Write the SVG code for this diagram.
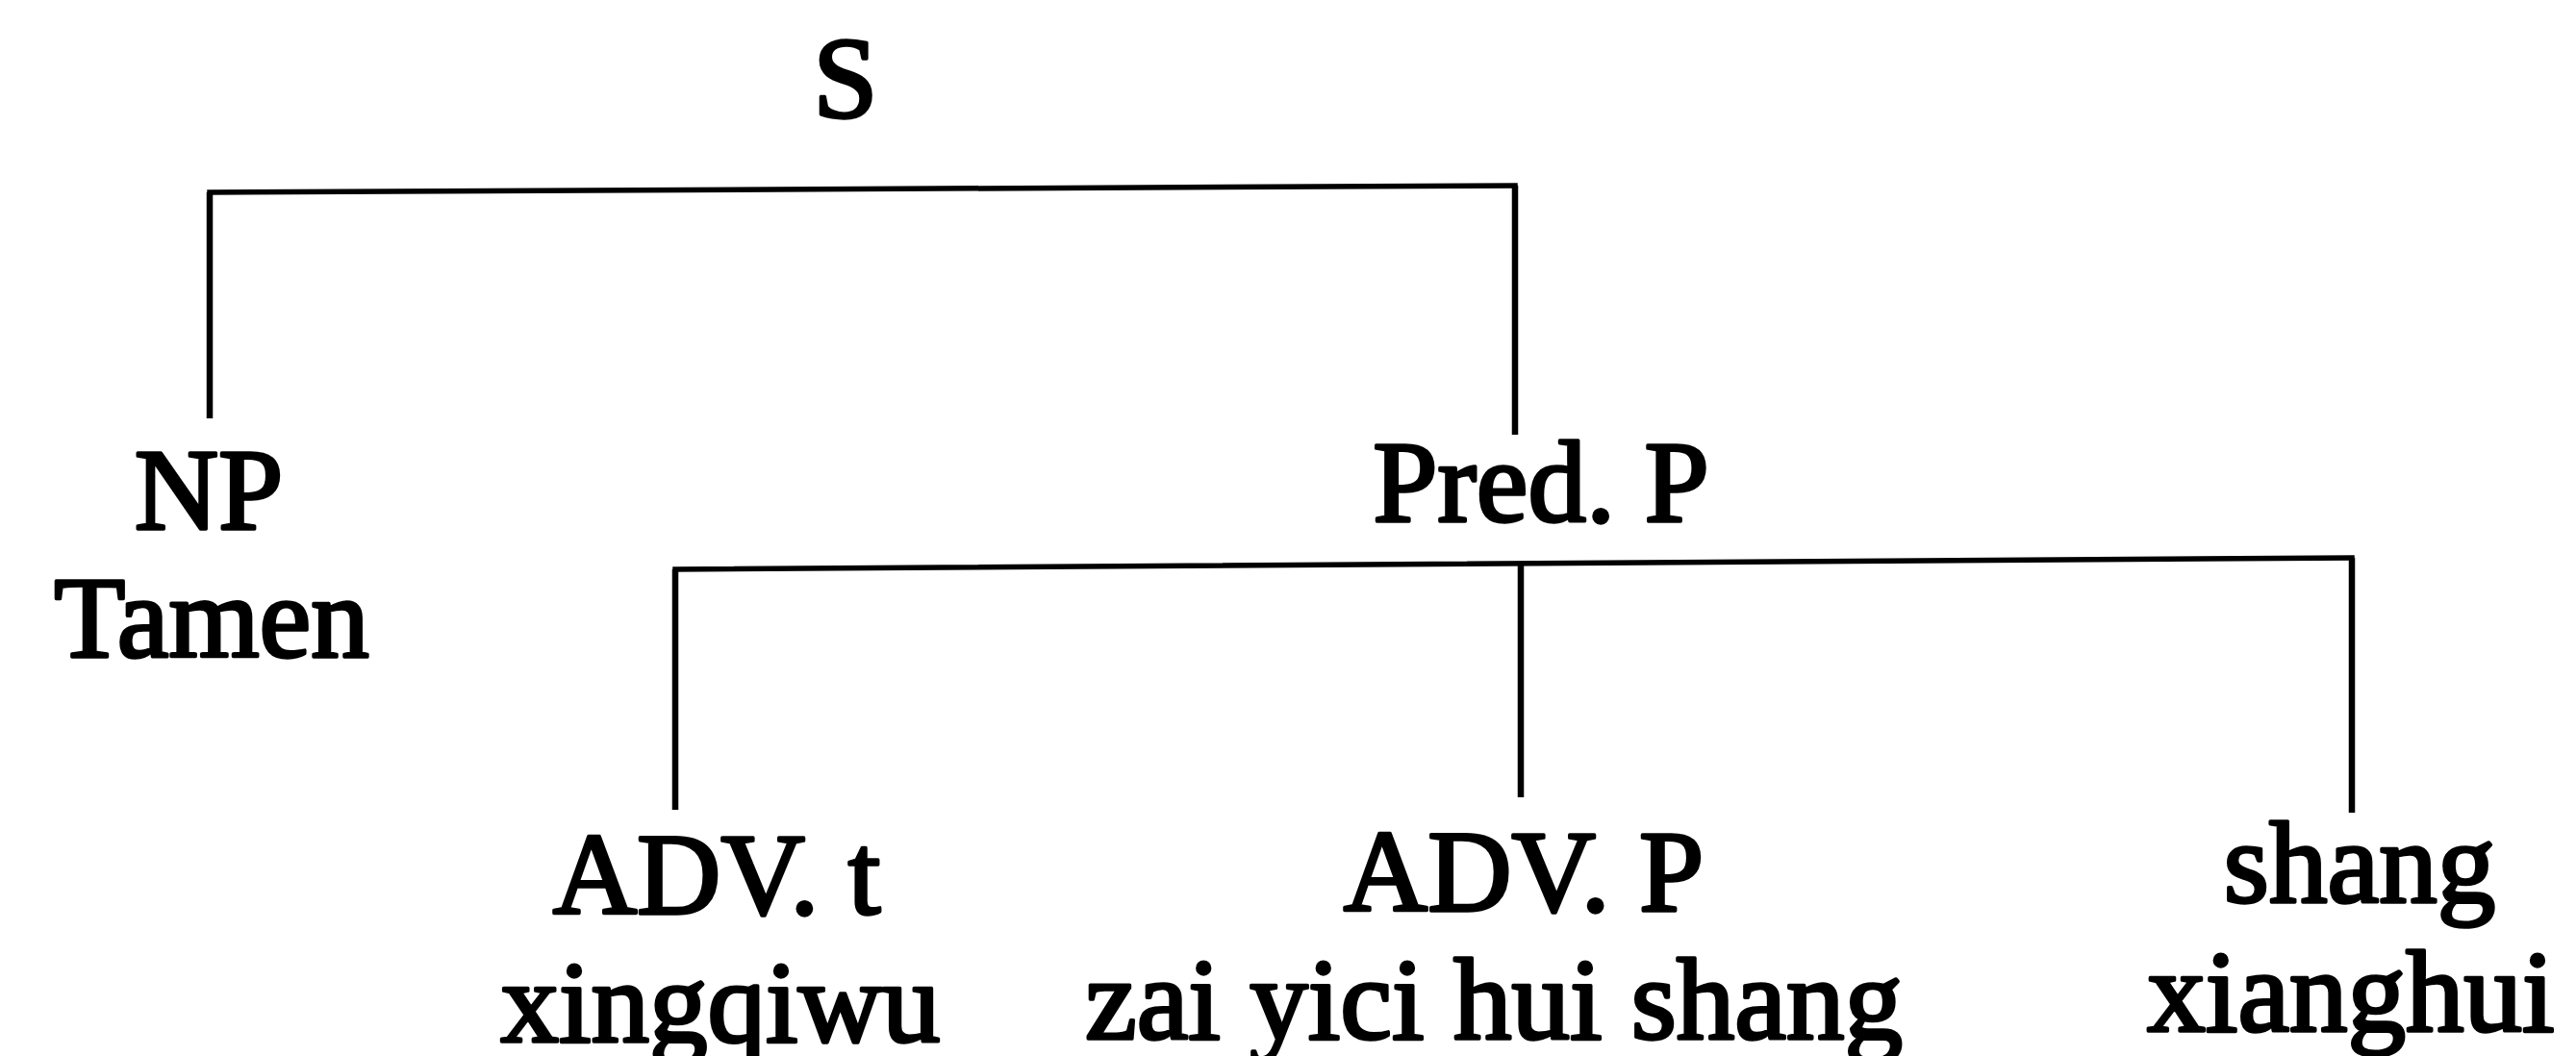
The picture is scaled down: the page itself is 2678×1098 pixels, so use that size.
<svg xmlns="http://www.w3.org/2000/svg" width="2678" height="1098" viewBox="0 0 2678 1098">
  <style>
    .lbl { font-family: "Liberation Serif", "Times New Roman", serif; font-size: 121px; fill: #000; stroke: #000; stroke-width: 3.5px; stroke-linejoin: round; }
    .bar { stroke: #000; stroke-width: 5.5; fill: none; stroke-linecap: square; }
    .stem { stroke: #000; stroke-width: 6.5; fill: none; }
  </style>
  <rect width="2678" height="1098" fill="#fff"/>

  <!-- branches of the tree -->
  <g id="connectors">
    <!-- S -> NP, Pred. P -->
    <line class="bar" x1="218" y1="200" x2="1575" y2="193"/>
    <line class="stem" x1="218" y1="200" x2="218" y2="435"/>
    <line class="stem" x1="1575" y1="193" x2="1575" y2="452"/>
    <!-- Pred. P -> ADV. t, ADV. P, shang -->
    <line class="bar" x1="702" y1="592" x2="2445" y2="580"/>
    <line class="stem" x1="702" y1="592" x2="702" y2="842"/>
    <line class="stem" x1="1581" y1="586" x2="1581" y2="829"/>
    <line class="stem" x1="2445" y1="580" x2="2445" y2="845"/>
  </g>

  <g id="node-s">
    <text class="lbl" x="879" y="122" text-anchor="middle">S</text>
  </g>
  <g id="node-np">
    <text class="lbl" x="217" y="550" text-anchor="middle">NP</text>
    <text class="lbl" x="220" y="683" text-anchor="middle">Tamen</text>
  </g>
  <g id="node-predp">
    <text class="lbl" x="1602" y="542" text-anchor="middle">Pred. P</text>
  </g>
  <g id="node-advt">
    <text class="lbl" x="745" y="950" text-anchor="middle">ADV. t</text>
    <text class="lbl" x="749" y="1083" text-anchor="middle">xingqiwu</text>
  </g>
  <g id="node-advp">
    <text class="lbl" x="1584" y="947" text-anchor="middle">ADV. P</text>
    <text class="lbl" x="1553" y="1080" text-anchor="middle">zai yici hui shang</text>
  </g>
  <g id="node-shang">
    <text class="lbl" x="2453" y="938" text-anchor="middle">shang</text>
    <text class="lbl" x="2444" y="1072" text-anchor="middle">xianghui</text>
  </g>
</svg>
